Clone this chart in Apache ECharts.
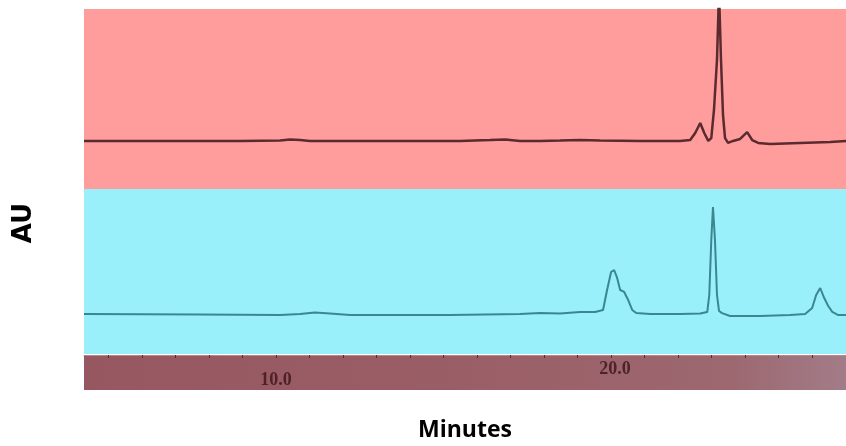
<!DOCTYPE html>
<html>
<head>
<meta charset="utf-8">
<script src="https://cdn.jsdelivr.net/npm/echarts@6/dist/echarts.min.js"></script>
<style>
  html, body { margin: 0; padding: 0; background: #fff; }
  #chart { width: 846px; height: 446px; }
</style>
</head>
<body>
<div id="chart"></div>
<script>
// chromatogram traces (minutes, AU in arbitrary units)
var topTime = [4.27, 6.24, 8.93, 10.12, 10.42, 10.72, 11.01, 13.70, 15.49, 16.39, 16.84, 17.28, 17.88, 18.48, 19.07, 19.67, 20.87, 22.06,
    22.36, 22.51, 22.66, 22.78, 22.90, 22.99, 23.07, 23.16, 23.22, 23.28, 23.34, 23.40, 23.49, 23.64, 23.85, 24.06, 24.21, 24.39, 24.75, 25.64, 26.54, 27.01];
var topSignal = [26.7, 26.7, 26.7, 26.9, 27.5, 27.2, 26.7, 26.7, 26.7, 27.2, 27.5, 26.7, 26.7, 26.9, 27.2, 26.9, 26.7, 26.7,
    27.2, 31.1, 36.7, 31.1, 26.7, 28.3, 43.9, 71.7, 110, 71.7, 41.1, 28.3, 25.6, 26.7, 27.8, 31.6, 27.2, 25.6, 25.0, 25.6, 26.1, 26.7];

var bottomTime = [4.27, 7.73, 10.12, 10.72, 11.16, 11.61, 12.21, 15.19, 17.28, 17.88, 18.48, 19.07, 19.52, 19.76, 19.88, 20.00, 20.09, 20.18, 20.27,
    20.39, 20.51, 20.63, 20.75, 21.16, 22.06, 22.66, 22.87, 22.93, 22.99, 23.04, 23.10, 23.16, 23.22, 23.31, 23.55, 24.45, 25.34, 25.79,
    26.00, 26.12, 26.24, 26.36, 26.48, 26.60, 26.78, 27.01];
var bottomSignal = [24.2, 23.9, 23.6, 24.2, 25.2, 24.5, 23.6, 23.6, 24.2, 24.8, 24.5, 25.5, 25.5, 26.7, 38.8, 49.7, 50.9, 46.1, 38.8,
    37.6, 32.7, 26.7, 24.8, 24.2, 24.2, 24.5, 25.5, 35.8, 69.1, 89.1, 69.1, 35.8, 26.1, 24.8, 23.0, 23.0, 23.6, 24.2,
    27.9, 35.8, 40.0, 33.9, 29.1, 25.5, 23.6, 23.6];

var labelMinutes = [10, 20];
var tickMinutes = [5, 6, 7, 8, 9, 10, 11, 12, 13, 14, 15, 16, 17, 18, 19, 20, 21, 22, 23, 24, 25, 26];

var tMin = 4.27, tMax = 27.01;

function pairs(xs, ys) {
    var out = [];
    for (var i = 0; i < xs.length; i++) out.push([xs[i], ys[i]]);
    return out;
}

var chart = echarts.init(document.getElementById('chart'));

var labelFont = {color: '#4e2228', fontFamily: 'Liberation Serif', fontWeight: 'bold', fontSize: 18};

var option = {
    animation: false,
    backgroundColor: '#ffffff',
    grid: [
        {left: 84, right: 0, top: 9, height: 180, show: true, borderWidth: 0, backgroundColor: '#fe9d9c'},
        {left: 84, right: 0, top: 189, height: 165, show: true, borderWidth: 0, backgroundColor: '#99f0fb'},
        {left: 84, right: 0, top: 355, height: 35, show: true, borderWidth: 0,
            backgroundColor: {
                type: 'linear', x: 0, y: 0, x2: 1, y2: 0,
                colorStops: [
                    {offset: 0, color: '#975760'},
                    {offset: 0.5, color: '#9a5e66'},
                    {offset: 0.85, color: '#9d6870'},
                    {offset: 1, color: '#a27c88'}
                ]
            }}
    ],
    xAxis: [
        {gridIndex: 0, type: 'value', min: tMin, max: tMax, show: false},
        {gridIndex: 1, type: 'value', min: tMin, max: tMax, show: false},
        {
            gridIndex: 2, type: 'value', min: tMin, max: tMax, position: 'top',
            splitLine: {show: false},
            axisLine: {show: true, onZero: false, lineStyle: {color: '#b38a94', width: 1}},
            axisTick: {show: true, inside: true, length: 3, customValues: tickMinutes,
                lineStyle: {color: '#5a2a30', width: 1}},
            axisLabel: Object.assign({
                show: true, inside: true, margin: 5, customValues: labelMinutes,
                formatter: function (v) {
                    return v === 10 ? '{lo|10.0}' : '{hi|20.0}';
                },
                rich: {
                    lo: Object.assign({padding: [11, 0, 0, 0]}, labelFont),
                    hi: Object.assign({padding: [0, 0, 0, 8]}, labelFont)
                }
            }, labelFont)
        }
    ],
    yAxis: [
        {gridIndex: 0, type: 'value', min: 0, max: 100, show: false},
        {gridIndex: 1, type: 'value', min: 0, max: 100, show: false},
        {gridIndex: 2, type: 'value', min: 0, max: 1, show: false}
    ],
    series: [
        {
            name: 'top', type: 'line', xAxisIndex: 0, yAxisIndex: 0,
            data: pairs(topTime, topSignal), showSymbol: false, clip: true,
            lineStyle: {color: '#5a2a2e', width: 2.5}
        },
        {
            name: 'bottom', type: 'line', xAxisIndex: 1, yAxisIndex: 1,
            data: pairs(bottomTime, bottomSignal), showSymbol: false, clip: true,
            lineStyle: {color: '#3a8790', width: 2}
        }
    ],
    graphic: [
        {
            type: 'text', x: 24, y: 223, rotation: Math.PI / 2,
            style: {text: 'AU', fontFamily: 'DejaVu Sans', fontWeight: 'bold', fontSize: 26,
                fill: '#000', align: 'center', verticalAlign: 'middle'}
        },
        {
            type: 'text', x: 465, y: 430,
            style: {text: 'Minutes', fontFamily: 'Open Sans', fontWeight: 'bold', fontSize: 23,
                fill: '#000', align: 'center', verticalAlign: 'middle'}
        }
    ]
};

chart.setOption(option);
</script>
</body>
</html>
